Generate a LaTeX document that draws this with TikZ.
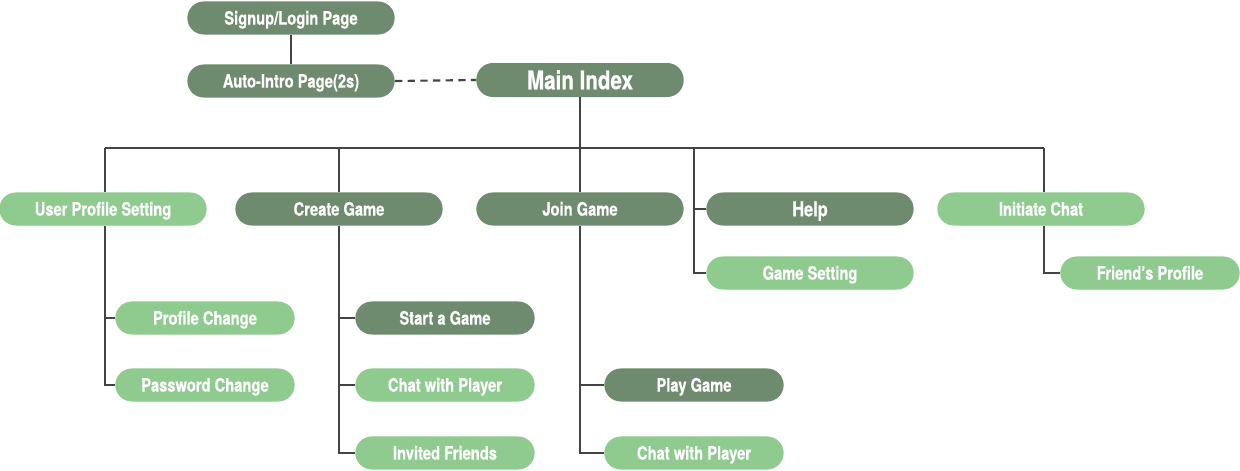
\documentclass[tikz,border=0pt]{standalone}
\usepackage{fontspec}
\setmainfont{TeX Gyre Heros}[FakeStretch=0.8,BoldFeatures={FakeBold=0.6}]
\definecolor{dkg}{RGB}{110,138,111}
\definecolor{ltg}{RGB}{143,203,143}
\definecolor{lnc}{RGB}{68,68,68}
\begin{document}
\begin{tikzpicture}[x=0.75pt,y=-0.75pt,
  pill/.style={rectangle,rounded corners=12.4pt,minimum height=24.8pt,inner sep=0pt,
     text height=9.9pt,text depth=0pt,
     text=white,font=\bfseries\fontsize{13.8pt}{15pt}\selectfont},
  wide/.style={pill,minimum width=155.5pt},
  narrow/.style={pill,minimum width=134.5pt},
  dark/.style={fill=dkg},
  light/.style={fill=ltg},
  conn/.style={draw=lnc,line width=1.6pt},
  dashconn/.style={conn,dash pattern=on 5.5pt off 4pt}]
\useasboundingbox (0,0) rectangle (1240,471);
% top
\node[wide,dark] (login) at (291,18) {Signup/Login Page};
\node[wide,dark] (intro) at (291,81) {Auto-Intro Page(2s)};
\node[wide,dark,font=\bfseries\fontsize{19.3pt}{21pt}\selectfont,text height=13.9pt,minimum height=25.5pt] (main) at (580,80) {Main Index};
% level 1
\node[wide,light] (ups) at (103,209) {User Profile Setting};
\node[wide,dark] (create) at (339,209) {Create Game};
\node[wide,dark] (join) at (580,209) {Join Game};
\node[wide,dark,font=\bfseries\fontsize{15.3pt}{17pt}\selectfont,text height=11pt] (help) at (810,209) {Help};
\node[wide,light] (chat) at (1041,209) {Initiate Chat};
% level 2
\node[narrow,light] (pc) at (205,318) {Profile Change};
\node[narrow,light] (pwc) at (205,385) {Password Change};
\node[narrow,dark] (start) at (445,318) {Start a Game};
\node[narrow,light] (cwp1) at (445,385) {Chat with Player};
\node[narrow,light] (inv) at (445,453) {Invited Friends};
\node[narrow,dark] (play) at (694,385) {Play Game};
\node[narrow,light] (cwp2) at (694,453) {Chat with Player};
\node[wide,light] (gs) at (810,273) {Game Setting};
\node[narrow,light] (fp) at (1150,273) {Friend’s Profile};
% coordinates
\coordinate (bus) at (580,148);
\coordinate (hb) at (694,148);
\coordinate (bl) at (105,148);
\coordinate (br) at (1044,148);
% connectors
\draw[conn] (login) -- (intro);
\draw[dashconn] (intro.east) -- (main.west);
\draw[conn] (main.south) -- (bus);
\draw[conn] (bl) -- (br);
\draw[conn] (bl) -- (bl |- ups.north);
\draw[conn] (create.north) -- (create.north |- bus);
\draw[conn] (join.north) -- (bus);
\draw[conn] (br) -- (br |- chat.north);
\draw[conn] (hb) |- (help.west);
\draw[conn] (hb) |- (gs.west);
\draw[conn] (bl |- ups.south) |- (pc.west);
\draw[conn] (bl |- ups.south) |- (pwc.west);
\draw[conn] (create.south) |- (start.west);
\draw[conn] (create.south) |- (cwp1.west);
\draw[conn] (create.south) |- (inv.west);
\draw[conn] (join.south) |- (play.west);
\draw[conn] (join.south) |- (cwp2.west);
\draw[conn] (br |- chat.south) |- (fp.west);
\end{tikzpicture}
\end{document}
